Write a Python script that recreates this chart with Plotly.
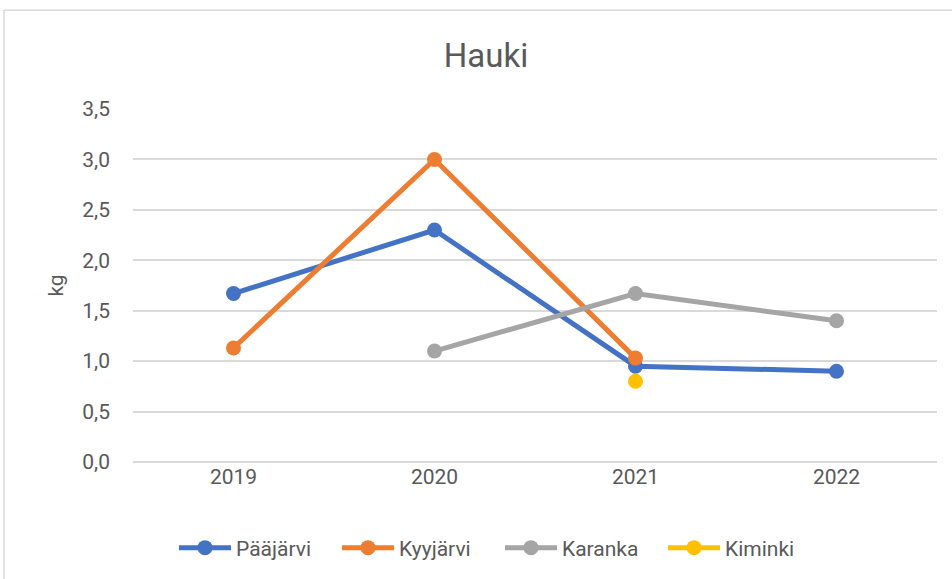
import plotly.graph_objects as go

years = ["2019", "2020", "2021", "2022"]
paajarvi = [1.67, 2.30, 0.95, 0.90]
kyyjarvi = [1.13, 3.00, 1.03, None]
karanka = [None, 1.10, 1.67, 1.40]
kiminki = [None, None, 0.80, None]

series_names = ["Pääjärvi", "Kyyjärvi", "Karanka", "Kiminki"]
series_vals = [paajarvi, kyyjarvi, karanka, kiminki]
colors = ["#4472C4", "#ED7D31", "#A5A5A5", "#FFC000"]

y_ticks = [0, 0.5, 1.0, 1.5, 2.0, 2.5, 3.0, 3.5]

FONT = "Roboto, Arial"
GREY = "#595959"

fig = go.Figure()
for name, vals, c in zip(series_names, series_vals, colors):
    fig.add_trace(go.Scatter(
        x=years, y=vals, name=name, mode="lines+markers",
        line=dict(color=c, width=5),
        marker=dict(color=c, size=15),
        connectgaps=False,
    ))

W, H = 952, 579
L, R, T, B = 133, 15, 109, 116
pw = W - L - R
ph = H - T - B

def px_x(p):
    return (p - L) / pw

def px_y(p):
    return (H - B - p) / ph

fig.add_shape(type="rect", xref="paper", yref="paper",
              x0=px_x(4), x1=px_x(W + 5), y0=px_y(H + 5), y1=px_y(10),
              line=dict(color="#D9D9D9", width=1.5), fillcolor="rgba(0,0,0,0)", layer="below")

fig.update_layout(
    width=W, height=H,
    margin=dict(l=L, r=R, t=T, b=B),
    paper_bgcolor="white", plot_bgcolor="white",
    separators=", ",
    title=dict(text="Hauki", x=486 / W, xanchor="center", y=1 - 55 / H, yanchor="middle",
               font=dict(family=FONT, size=33, color=GREY)),
    font=dict(family=FONT, color=GREY, size=21),
    xaxis=dict(type="category", showgrid=False, showline=False, ticks="",
               tickfont=dict(size=21, color=GREY), range=[-0.5, 3.5]),
    yaxis=dict(range=[0, 3.5], tickvals=y_ticks, tickformat=".1f",
               gridcolor="#D9D9D9", gridwidth=1.5, zeroline=True, zerolinecolor="#D9D9D9",
               zerolinewidth=1.5, showline=False, ticks="", ticklabelstandoff=22,
               title=dict(text="kg", font=dict(size=21, color=GREY), standoff=12),
               tickfont=dict(size=21, color=GREY)),
    legend=dict(orientation="h", x=px_x(500), xanchor="center",
                y=px_y(548), yanchor="middle",
                font=dict(size=21, color=GREY), itemwidth=52,
                entrywidth=96, entrywidthmode="pixels",
                traceorder="normal"),
    showlegend=True,
)

fig.write_html("out.html", post_script="document.body.style.margin='0px';",
               config={"displayModeBar": False})
